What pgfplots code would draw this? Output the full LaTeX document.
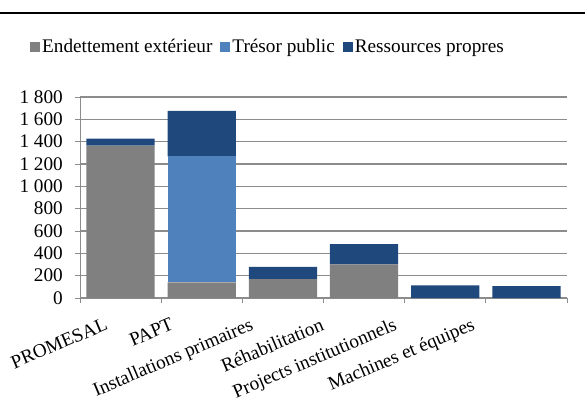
\documentclass[border=0pt]{standalone}
\usepackage{pgfplots}
\pgfplotsset{compat=1.18}
\usepackage{fontspec}
\setmainfont{Liberation Serif}
\definecolor{cgray}{HTML}{808080}
\definecolor{clight}{HTML}{4F81BD}
\definecolor{cdark}{HTML}{1F497D}
\definecolor{cgrid}{HTML}{8C8C8C}
\begin{document}
\begin{tikzpicture}[x=1bp,y=1bp]
\useasboundingbox (0,0) rectangle (585,414);
\draw[line width=2.5bp] (0,401) -- (585,401);
\begin{axis}[
  at={(80bp,116bp)}, anchor=south west,
  scale only axis, width=487bp, height=201bp,
  ybar stacked, bar width=0.84,
  xmin=-0.5, xmax=5.5, ymin=0, ymax=1800,
  xtick={-0.24,0.57,1.55,2.42,3.32,4.28},
  xticklabels={PROMESAL,PAPT,Installations primaires,Réhabilitation,Projects institutionnels,Machines et équipes},
  minor xtick={-0.5,0.5,...,5.5},
  major x tick style={draw=none},
  minor x tick style={draw=cgrid, line width=0.9bp},
  ytick={0,200,...,1800},
  yticklabels={0,200,400,600,800,1 000,1 200,1 400,1 600,1 800},
  tick align=outside, major tick length=5bp, minor tick length=5bp,
  y tick style={draw=cgrid, line width=0.9bp},
  axis x line*=bottom, axis y line*=left,
  axis line style={draw=cgrid, line width=1bp, -},
  ymajorgrids, grid style={draw=cgrid, line width=1.2bp},
  font=\fontsize{19.3}{22}\selectfont,
  ticklabel style={font=\fontsize{19.3}{22}\selectfont},
  xticklabel style={rotate=23, anchor=north east, inner sep=1bp, xshift=-2bp, yshift=-13bp},
  yticklabel style={inner sep=2bp, xshift=-10bp},
  legend style={at={(0.386,1.249)}, anchor=center, draw=none, fill=none,
    legend columns=-1, font=\fontsize{19.3}{22}\selectfont,
    /tikz/every even column/.append style={column sep=6bp}},
  legend image code/.code={\fill[#1] (0bp,-5bp) rectangle (10bp,5bp);},
]
\addplot[fill=cgray, draw=none] coordinates {(0,1365) (1,140) (2,170) (3,302) (4,0) (5,0)};
\addplot[fill=clight, draw=none] coordinates {(0,0) (1,1128) (2,0) (3,0) (4,0) (5,0)};
\addplot[fill=cdark, draw=none] coordinates {(0,63) (1,407) (2,108) (3,180) (4,113) (5,107)};
\legend{Endettement extérieur,Trésor public,Ressources propres}
\end{axis}
\end{tikzpicture}
\end{document}
